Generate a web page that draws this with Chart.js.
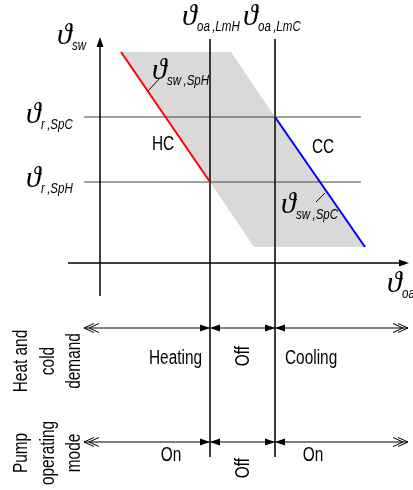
<!DOCTYPE html>
<html>
<head>
<meta charset="utf-8">
<script src="https://cdn.jsdelivr.net/npm/chart.js@4/dist/chart.umd.min.js"></script>
<style>
  html, body { margin: 0; padding: 0; background: #fff; }
  canvas { display: block; }
</style>
</head>
<body>
<canvas id="diagram" width="413" height="490"></canvas>
<script>
// diagram units: x grows right, y grows down (one unit per pixel of the reference)
const oaLmH = 210;          // outdoor air limit, heating
const oaLmC = 275;          // outdoor air limit, cooling
const rSpC = 117;           // room setpoint, cooling
const rSpH = 182;           // room setpoint, heating
const axisOrigin = [100, 263];
const hcCurve = [[121, 52], [210, 182]];
const ccCurve = [[275, 117], [365, 247]];
const bandShape = [[121, 52], [231, 52], [275, 117], [365, 247], [254, 247], [210, 182], [121, 52]];
const rowLevels = [328, 442];
const rowEnds = [84, 408];
const demandLabels = ['Heating', 'Off', 'Cooling'];
const pumpLabels = ['On', 'Off', 'On'];
const rowTitles = [['Heat and', 'cold', 'demand'], ['Pump', 'operating', 'mode']];

const FONT = '"Liberation Sans", Arial, sans-serif';
const THETA = '"Liberation Serif", "DejaVu Serif", serif';
const SQUEEZE = 0.77;

function pts(arr) { return arr.map(p => ({ x: p[0], y: p[1] })); }
function line(arr, color, width) {
  return { data: pts(arr), showLine: true, borderColor: color, borderWidth: width,
           pointRadius: 0, fill: false, tension: 0 };
}

const datasets = [
  line(hcCurve, '#ff0000', 2),
  line(ccCurve, '#0000ff', 2),
  line([[148, 91], [160, 78]], '#000', 1),
  line([[316, 202], [325, 193]], '#000', 1),
  line([[axisOrigin[0], 296], [axisOrigin[0], 46]], '#000', 1.5),
  line([[68, axisOrigin[1]], [400, axisOrigin[1]]], '#000', 1.5),
  line([[oaLmH, 39], [oaLmH, 457]], '#222', 1),
  line([[oaLmC, 39], [oaLmC, 457]], '#222', 1),
  line([[84, rSpC], [361, rSpC]], '#444', 1),
  line([[84, rSpH], [361, rSpH]], '#444', 1),
  line([[rowEnds[0], rowLevels[0]], [rowEnds[1], rowLevels[0]]], '#000', 1),
  line([[rowEnds[0], rowLevels[1]], [rowEnds[1], rowLevels[1]]], '#000', 1),
  { data: pts(bandShape), showLine: true, borderWidth: 0, borderColor: 'rgba(0,0,0,0)',
    backgroundColor: '#d9d9d9', pointRadius: 0, fill: 'shape', tension: 0 }
];

const annotations = {
  id: 'annotations',
  afterDatasetsDraw(chart) {
    const { ctx, scales: { x, y } } = chart;
    const X = v => x.getPixelForValue(v);
    const Y = v => y.getPixelForValue(v);
    ctx.save();

    function head(tx, ty, dx, dy) {
      const px = X(tx), py = Y(ty), len = 10, w = 3.5;
      const nx = -dy, ny = dx;
      ctx.beginPath();
      ctx.moveTo(px, py);
      ctx.lineTo(px - dx * len + nx * w, py - dy * len + ny * w);
      ctx.lineTo(px - dx * len - nx * w, py - dy * len - ny * w);
      ctx.closePath();
      ctx.fillStyle = '#000';
      ctx.fill();
    }
    function chevron(tx, ty, dir) {
      ctx.beginPath();
      ctx.moveTo(X(tx) - dir * 10, Y(ty) - 4.5);
      ctx.lineTo(X(tx), Y(ty));
      ctx.lineTo(X(tx) - dir * 10, Y(ty) + 4.5);
      ctx.strokeStyle = '#000';
      ctx.lineWidth = 1;
      ctx.stroke();
    }
    head(axisOrigin[0], 37, 0, -1);
    head(409, axisOrigin[1], 1, 0);
    rowLevels.forEach(r => {
      head(oaLmH, r, 1, 0); head(oaLmH, r, -1, 0);
      head(oaLmC, r, 1, 0); head(oaLmC, r, -1, 0);
      chevron(rowEnds[0], r, -1); chevron(rowEnds[0] + 5, r, -1);
      chevron(rowEnds[1], r, 1); chevron(rowEnds[1] - 5, r, 1);
    });

    ctx.fillStyle = '#000';
    ctx.textBaseline = 'alphabetic';
    // text drawn narrow, like the condensed face of the original
    function txt(s, tx, ty, align, font, rot) {
      ctx.save();
      ctx.translate(X(tx), Y(ty));
      if (rot) ctx.rotate(rot);
      ctx.scale(SQUEEZE, 1);
      ctx.textAlign = align;
      ctx.font = font;
      ctx.fillText(s, 0, 0);
      ctx.restore();
    }
    function sym(tx, ty, sub) {
      ctx.textAlign = 'left';
      ctx.font = 'italic 30px ' + THETA;
      ctx.fillText('\u03D1', X(tx) - 1, Y(ty));
      txt(sub, tx + 14, ty + 6, 'left', 'italic 15px ' + FONT);
    }
    const gap = '\u2009';
    sym(58, 44, 'sw');
    sym(183, 25, 'oa' + gap + ',LmH');
    sym(244, 25, 'oa' + gap + ',LmC');
    sym(27, 123, 'r' + gap + ',SpC');
    sym(27, 187, 'r' + gap + ',SpH');
    sym(153, 79, 'sw' + gap + ',SpH');
    sym(282, 213, 'sw' + gap + ',SpC');
    sym(388, 292, 'oa');

    const big = '20px ' + FONT;
    txt('HC', 152, 150, 'left', big);
    txt('CC', 312, 153, 'left', big);
    const offX = (oaLmH + oaLmC) / 2 + 6;
    txt(demandLabels[0], 149, 364, 'left', big);
    txt(demandLabels[1], offX, 356, 'center', big, -Math.PI / 2);
    txt(demandLabels[2], 285, 364, 'left', big);
    txt(pumpLabels[0], 171, 461, 'center', big);
    txt(pumpLabels[1], offX, 468, 'center', big, -Math.PI / 2);
    txt(pumpLabels[2], 313, 461, 'center', big);
    const titleY = [361, 453];
    rowTitles.forEach((lines, i) => {
      lines.forEach((s, j) => txt(s, 27 + j * 26.5, titleY[i], 'center', big, -Math.PI / 2));
    });
    ctx.restore();
  }
};

new Chart(document.getElementById('diagram'), {
  type: 'scatter',
  data: { datasets },
  options: {
    responsive: false,
    animation: false,
    layout: { padding: 0 },
    plugins: { legend: { display: false }, tooltip: { enabled: false } },
    scales: {
      x: { type: 'linear', min: 0, max: 413, display: false },
      y: { type: 'linear', min: 0, max: 490, reverse: true, display: false }
    }
  },
  plugins: [annotations]
});
</script>
</body>
</html>
